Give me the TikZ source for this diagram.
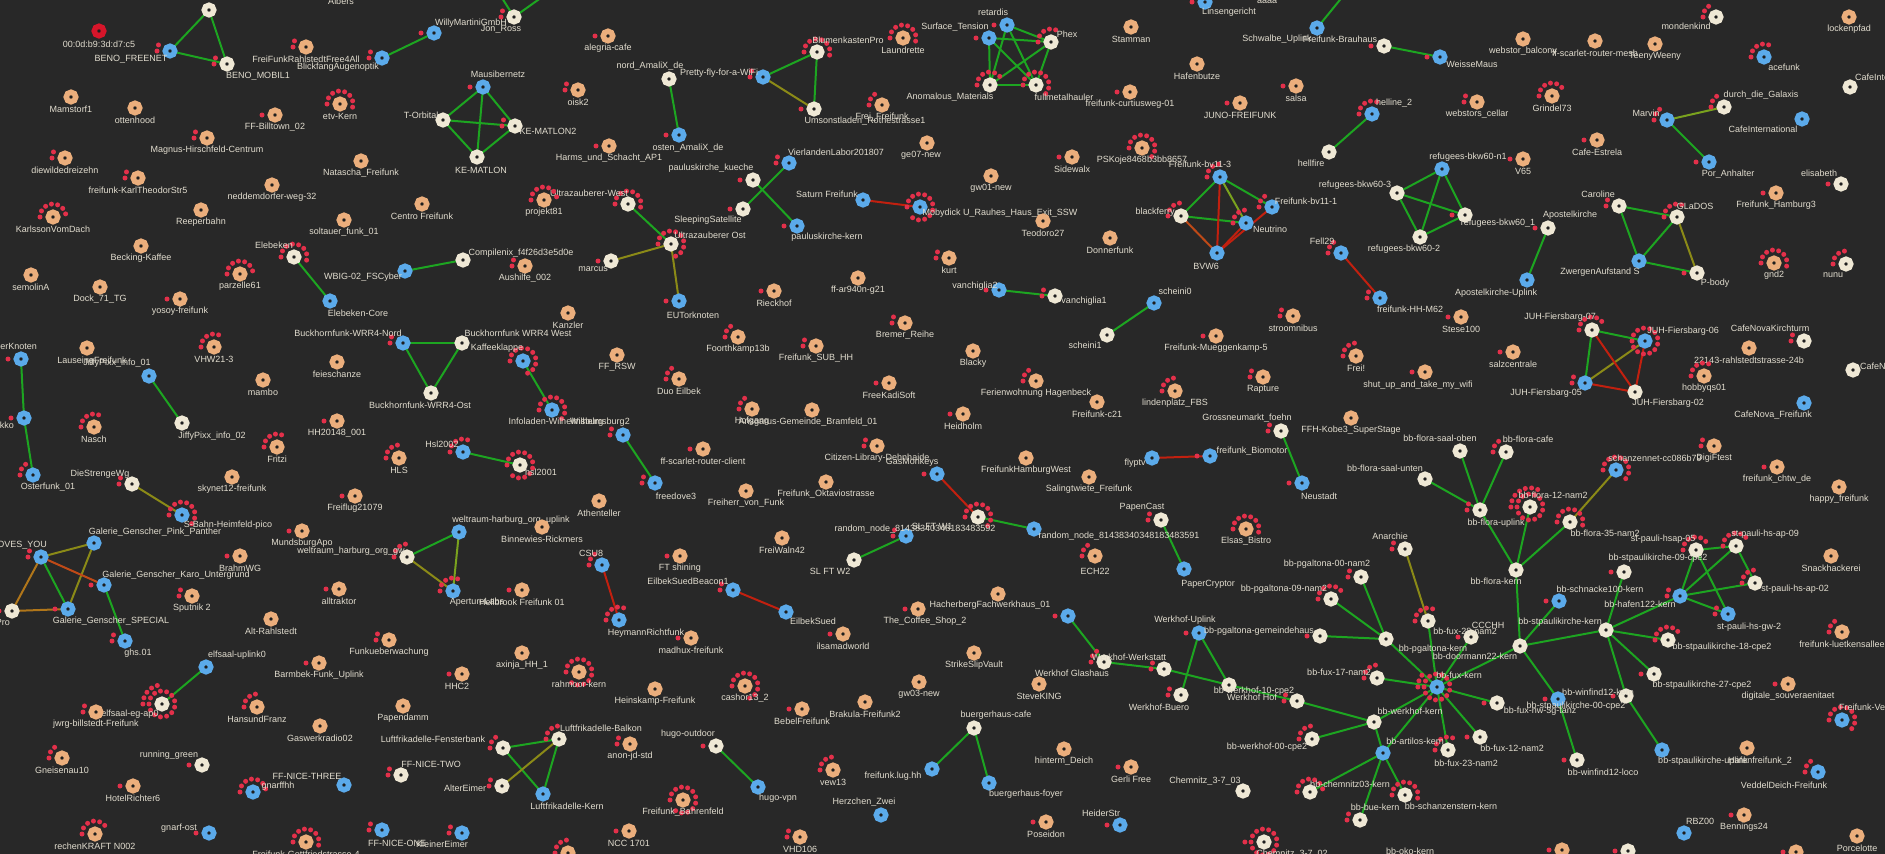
\documentclass[tikz,border=0pt]{standalone}
\usepackage{fontspec}
\setmainfont{Liberation Sans}
\pgfdeclarelayer{bgl}
\pgfdeclarelayer{edges}
\pgfsetlayers{bgl,edges,main}
\definecolor{cBg}{HTML}{282828}
\definecolor{cOff}{HTML}{EBAE7C}
\definecolor{cOnw}{HTML}{EFE8D5}
\definecolor{cOnb}{HTML}{5BAAEA}
\definecolor{cDead}{HTML}{D7152A}
\definecolor{cDot}{HTML}{1E1E1E}
\definecolor{cCl}{HTML}{E3304A}
\definecolor{cTxt}{HTML}{E2DDCF}
\definecolor{cG}{HTML}{1DA521}
\definecolor{cO}{HTML}{8B8A17}
\definecolor{cY}{HTML}{7AA21E}
\definecolor{cR}{HTML}{C2200F}
\definecolor{cM}{HTML}{BF4A17}
\definecolor{cA}{HTML}{B0761A}
\newcommand\clnts[2]{\ifnum#2>0 \foreach \ii in {1,...,#2}{%
 \pgfmathtruncatemacro\cK{\ii-1}%
 \pgfmathsetmacro\cR{\cK<13 ? 13 : (\cK<32 ? 19.1 : 25.2)}%
 \pgfmathsetmacro\cJ{\cK<13 ? \cK : (\cK<32 ? \cK-13 : \cK-32)}%
 \pgfmathsetmacro\cN{\cK<13 ? 13 : (\cK<32 ? 19 : 25)}%
 \pgfmathsetmacro\cT{360/\cN*\cJ}%
 \fill[cCl] (#1) ++({-\cR*cos(\cT)},{-\cR*sin(\cT)}) circle (2.5);}\fi}
\newcommand\ndb[6]{\node[#2] (#1) at (#3,#4) {};\clnts{#1}{#5}\node[lbl] (#1-t) at (#3,{#4+12.5}) {#6};}
\newcommand\ndx[8]{\node[#2] (#1) at (#3,#4) {};\clnts{#1}{#5}\node[lbl] (#1-t) at (#6,#7) {#8};}
\newcommand\ndu[5]{\node[#2] (#1) at (#3,#4) {};\clnts{#1}{#5}}
\begin{document}
\begin{tikzpicture}[x=1pt,y=-1pt,
 base/.style={circle,inner sep=0pt,minimum size=9.5pt,line width=5.5pt,fill=cDot},
 nO/.style={base,draw=cOff},
 nW/.style={base,draw=cOnw},
 nB/.style={base,draw=cOnb},
 nR/.style={base,draw=cDead},
 lbl/.style={text=cTxt,font=\fontsize{9}{10}\selectfont,inner sep=0pt},
 eG/.style={draw=cG,line width=2pt},
 eO/.style={draw=cO,line width=2pt},
 eY/.style={draw=cY,line width=2pt},
 eR/.style={draw=cR,line width=2pt},
 eM/.style={draw=cM,line width=2pt},
 eA/.style={draw=cA,line width=2pt}]
\useasboundingbox (0,0) rectangle (1885,854);
\begin{pgfonlayer}{bgl}
\fill[cBg] (0,0) rectangle (1885,854);
\end{pgfonlayer}
% ---------- region 1
\ndu{top1}{nW}{209}{10}{0}
\node[lbl] (albers) at (341,1) {Albers};
\ndx{macn}{nR}{99}{31}{0}{99}{44}{00:0d:b9:3d:d7:c5}
\ndx{benof}{nB}{170}{51}{2}{131}{59}{BENO\_FREENET}
\ndx{benom}{nW}{227}{64}{2}{258}{76}{BENO\_MOBIL1}
\ndb{rahl}{nO}{306}{47}{2}{FreiFunkRahlstedtFree4All}
\ndx{blick}{nB}{382}{58}{2}{338}{67}{BlickfangAugenoptik}
\ndx{willy}{nB}{434}{33}{1}{471}{23}{WillyMartiniGmbH}
\ndx{jonross}{nW}{514}{17}{2}{501}{29}{Jon\_Ross}
\ndb{mams}{nO}{71}{97}{0}{Mamstorf1}
\ndb{otten}{nO}{135}{108}{0}{ottenhood}
\ndb{billt}{nO}{275}{115}{1}{FF-Billtown\_02}
\ndb{etv}{nO}{340}{104}{8}{etv-Kern}
\ndb{magnus}{nO}{207}{138}{2}{Magnus-Hirschfeld-Centrum}
\ndb{diew}{nO}{65}{158}{2}{diewildedreizehn}
\ndb{karlth}{nO}{138}{178}{2}{freifunk-KarlTheodorStr5}
\ndb{nedd}{nO}{272}{185}{0}{neddemdorfer-weg-32}
\ndb{nata}{nO}{361}{161}{0}{Natascha\_Freifunk}
\ndb{centro}{nO}{422}{204}{0}{Centro Freifunk}
\ndb{soltau}{nO}{344}{220}{0}{soltauer\_funk\_01}
\ndb{karlsson}{nO}{53}{217}{7}{KarlssonVomDach}
\ndb{reeper}{nO}{201}{210}{0}{Reeperbahn}
\ndb{becking}{nO}{141}{246}{0}{Becking-Kaffee}
\ndx{elebeken}{nW}{294}{257}{8}{274}{245}{Elebeken}
\ndx{torbital}{nW}{443}{120}{0}{421}{115}{T-Orbital}
\ndx{kematlon}{nW}{477}{157}{0}{481}{170}{KE-MATLON}
\ndx{wbig}{nB}{405}{271}{0}{363}{277}{WBIG-02\_FSCyber}
\ndx{compil}{nW}{463}{260}{0}{521}{253}{Compilenix\_f4f26d3e5d0e}
\ndb{semol}{nO}{31}{275}{0}{semolinA}
\ndb{dock}{nO}{100}{287}{0}{Dock\_71\_TG}
\ndb{parz}{nO}{240}{274}{7}{parzelle61}
% ---------- region 2
\ndb{alegria}{nO}{608}{36}{1}{alegria-cafe}
\ndx{mausi}{nB}{483}{87}{1}{498}{74}{Mausibernetz}
\ndb{oisk}{nO}{578}{90}{2}{oisk2}
\ndx{kem2}{nW}{515}{126}{2}{548}{131}{KE-MATLON2}
\ndb{harms}{nO}{609}{146}{1}{Harms\_und\_Schacht\_AP1}
\ndx{nordam}{nW}{669}{79}{0}{650}{66}{nord\_AmaliX\_de}
\ndx{ostam}{nB}{679}{135}{1}{688}{148}{osten\_AmaliX\_de}
\ndx{pretty}{nB}{763}{77}{2}{719}{73}{Pretty-fly-for-a-WiFi}
\ndx{blumen}{nW}{817}{52}{8}{848}{40}{BlumenkastenPro}
\ndx{umsonst}{nW}{814}{109}{1}{865}{121}{Umsonstladen\_Rothestrasse1}
\ndb{freifrei}{nO}{882}{105}{3}{Frei\_Freifunk}
\ndb{laundr}{nO}{903}{38}{8}{Laundrette}
\ndx{ge07}{nO}{927}{143}{0}{921}{155}{ge07-new}
\ndx{vierl}{nB}{789}{163}{2}{836}{152}{VierlandenLabor201807}
\ndx{paulk}{nW}{753}{180}{1}{711}{168}{pauluskirche\_kueche}
\ndx{sleep}{nW}{743}{209}{1}{708}{220}{SleepingSatellite}
\ndx{paulkern}{nB}{797}{226}{1}{827}{237}{pauluskirche-kern}
\ndx{saturn}{nB}{863}{200}{0}{827}{194}{Saturn Freifunk}
\ndx{moby}{nB}{920}{207}{12}{1000}{213}{Mobydick U\_Rauhes\_Haus\_Exit\_SSW}
\ndx{uzw}{nW}{628}{204}{8}{589}{193}{Ultrazauberer-West}
\ndb{proj81}{nO}{544}{200}{7}{projekt81}
\ndx{uzo}{nW}{671}{244}{10}{710}{235}{Ultrazauberer Ost}
\ndx{marcus}{nW}{611}{261}{1}{593}{269}{marcus}
\ndx{eutor}{nB}{679}{301}{1}{693}{315}{EUTorknoten}
\ndb{aushilfe}{nO}{525}{266}{2}{Aushilfe\_002}
\ndb{ffar}{nO}{858}{278}{0}{ff-ar940n-g21}
\ndb{kurt}{nO}{949}{258}{2}{kurt}
% ---------- region 3
\ndx{surface}{nB}{989}{38}{1}{955}{27}{Surface\_Tension}
\ndx{retardis}{nB}{1007}{25}{1}{993}{12}{retardis}
\ndx{phex}{nW}{1051}{42}{5}{1067}{34}{Phex}
\ndx{anom}{nW}{990}{85}{6}{950}{97}{Anomalous\_Materials}
\ndx{fullm}{nW}{1036}{85}{9}{1064}{97}{fullmetalhauler}
\ndb{stamman}{nO}{1131}{27}{0}{Stamman}
\ndb{hafenb}{nO}{1197}{64}{0}{Hafenbutze}
\ndb{curtius}{nO}{1130}{92}{1}{freifunk-curtiusweg-01}
\ndb{juno}{nO}{1240}{103}{1}{JUNO-FREIFUNK}
\ndb{salsa}{nO}{1296}{86}{1}{salsa}
\ndx{linsen}{nB}{1205}{2}{1}{1229}{12}{Linsengericht}
\node[lbl] (aaaa) at (1267,1) {aaaa};
\ndx{schwalbe}{nB}{1317}{28}{0}{1277}{39}{Schwalbe\_Uplink}
\ndx{brauhaus}{nW}{1384}{46}{1}{1340}{39}{Freifunk-Brauhaus}
\ndx{weisse}{nB}{1440}{57}{1}{1472}{64}{WeisseMaus}
\ndx{helline}{nB}{1372}{114}{5}{1394}{103}{helline\_2}
\ndx{hellfire}{nW}{1329}{152}{0}{1311}{163}{hellfire}
\ndb{sidewalx}{nO}{1072}{157}{1}{Sidewalx}
\ndb{gw01}{nO}{991}{176}{0}{gw01-new}
\ndb{pskoje}{nO}{1142}{148}{9}{PSKoje8468b3bb8657}
\ndx{bv113}{nB}{1220}{177}{4}{1200}{164}{Freifunk-bv11-3}
\ndx{bv111}{nB}{1272}{207}{3}{1306}{201}{Freifunk-bv11-1}
\ndx{blackf}{nW}{1181}{216}{4}{1155}{212}{blackferry}
\ndx{neutr}{nB}{1246}{223}{4}{1270}{229}{Neutrino}
\ndx{bvw6}{nB}{1217}{253}{0}{1206}{266}{BVW6}
\ndb{donner}{nO}{1110}{238}{0}{Donnerfunk}
\ndb{teodoro}{nO}{1043}{221}{0}{Teodoro27}
\ndx{vanch2}{nB}{999}{290}{1}{975}{286}{vanchiglia2}
\ndx{vanch1}{nW}{1055}{296}{2}{1084}{301}{vanchiglia1}
\ndx{fell29}{nB}{1341}{253}{3}{1322}{241}{Fell29}
\ndx{hhm62}{nB}{1380}{298}{2}{1410}{309}{freifunk-HH-M62}
\ndx{ref3}{nW}{1397}{193}{0}{1355}{185}{refugees-bkw60-3}
\ndx{ref2}{nW}{1420}{237}{0}{1404}{249}{refugees-bkw60-2}
\ndx{refn1}{nB}{1442}{169}{0}{1468}{157}{refugees-bkw60-n1}
\ndx{ref1}{nW}{1465}{215}{1}{1498}{223}{refugees-bkw60\_1}
% ---------- region 4
\ndx{monden}{nW}{1716}{17}{3}{1686}{26}{mondenkind}
\ndb{locken}{nO}{1849}{17}{0}{lockenpfad}
\ndb{webbal}{nO}{1523}{39}{0}{webstor\_balcony}
\ndb{scarm}{nO}{1595}{41}{0}{ff-scarlet-router-mesh}
\ndb{teeny}{nO}{1655}{44}{0}{TeenyWeeny}
\ndx{acef}{nB}{1764}{57}{5}{1784}{67}{acefunk}
\ndu{cafei2}{nW}{1850}{87}{0}
\node[lbl,anchor=west] (cafei2-t) at (1855,77) {CafeInternational};
\ndb{webcel}{nO}{1477}{102}{2}{webstors\_cellar}
\ndb{grindel}{nO}{1552}{96}{6}{Grindel73}
\ndx{durch}{nW}{1724}{107}{3}{1761}{95}{durch\_die\_Galaxis}
\ndx{marvin}{nB}{1667}{120}{3}{1646}{113}{Marvin}
\ndx{cafei}{nB}{1802}{119}{0}{1763}{129}{CafeInternational}
\ndb{estrela}{nO}{1597}{140}{1}{Cafe-Estrela}
\ndb{v65}{nO}{1523}{159}{1}{V65}
\ndx{poranh}{nB}{1709}{162}{1}{1728}{174}{Por\_Anhalter}
\ndx{elisab}{nW}{1841}{184}{1}{1819}{173}{elisabeth}
\ndb{ffhh3}{nO}{1776}{193}{1}{Freifunk\_Hamburg3}
\ndx{caroline}{nW}{1619}{206}{2}{1598}{194}{Caroline}
\ndx{glados}{nW}{1677}{217}{5}{1695}{206}{GLaDOS}
\ndx{zwergen}{nB}{1639}{261}{0}{1600}{272}{ZwergenAufstand S}
\ndx{pbody}{nW}{1697}{273}{1}{1715}{283}{P-body}
\ndx{apostel}{nW}{1548}{228}{1}{1570}{215}{Apostelkirche}
\ndx{aposup}{nB}{1527}{280}{0}{1496}{293}{Apostelkirche-Uplink}
\ndb{gnd2}{nO}{1774}{263}{8}{gnd2}
\ndx{nunu}{nW}{1846}{264}{4}{1833}{275}{nunu}
% ---------- region 5
\ndb{yosoy}{nO}{180}{299}{1}{yosoy-freifunk}
\ndx{elebcore}{nB}{330}{301}{0}{358}{313}{Elebeken-Core}
\ndu{knoten}{nB}{21}{359}{1}
\node[lbl,anchor=east] (knoten-t) at (37,346) {BrennerKnoten};
\ndx{lauseing}{nO}{87}{348}{0}{92}{361}{LauseingFreifunk}
\ndx{jiffy1}{nB}{149}{376}{0}{117}{363}{JiffyPixx\_info\_01}
\ndx{jiffy2}{nW}{182}{423}{0}{212}{436}{JiffyPixx\_info\_02}
\ndb{vhw}{nO}{214}{347}{5}{VHW21-3}
\ndb{mambo}{nO}{263}{380}{0}{mambo}
\ndb{feie}{nO}{337}{362}{0}{feieschanze}
\ndx{bhnord}{nB}{403}{343}{2}{348}{333}{Buckhornfunk-WRR4-Nord}
\ndx{bhwest}{nW}{462}{343}{0}{518}{333}{Buckhornfunk WRR4 West}
\ndx{bhost}{nW}{431}{393}{0}{420}{405}{Buckhornfunk-WRR4-Ost}
\ndu{gekko}{nB}{24}{418}{1}
\node[lbl,anchor=east] (gekko-t) at (14,425) {Gekko};
\ndx{osterf}{nB}{33}{475}{3}{48}{487}{Osterfunk\_01}
\ndb{nasch}{nO}{94}{427}{5}{Nasch}
\ndb{fritzi}{nO}{277}{447}{5}{Fritzi}
\ndb{hh2014}{nO}{337}{421}{1}{HH20148\_001}
\ndb{hls}{nO}{399}{458}{4}{HLS}
\ndx{hsl2}{nB}{463}{452}{5}{442}{444}{Hsl2002}
\ndx{hsl1}{nW}{520}{465}{12}{541}{472}{hsl2001}
\ndx{diestr}{nW}{132}{484}{2}{100}{474}{DieStrengeWg}
\ndx{sbahn}{nB}{182}{515}{9}{228}{525}{S-Bahn-Heimfeld-pico}
\ndb{skynet}{nO}{232}{477}{0}{skynet12-freifunk}
\ndb{freiflug}{nO}{355}{496}{1}{Freiflug21079}
\ndb{mundsb}{nO}{302}{531}{1}{MundsburgApo}
\ndb{brahm}{nO}{240}{556}{1}{BrahmWG}
\ndx{pinkp}{nB}{94}{543}{0}{155}{532}{Galerie\_Genscher\_Pink\_Panther}
\ndu{loves}{nB}{41}{557}{2}
\node[lbl,anchor=east] (loves-t) at (47,545) {LOVES\_YOU};
\ndx{welup}{nB}{459}{532}{0}{511}{520}{weltraum-harburg\_org\_uplink}
\ndx{welgw}{nW}{407}{557}{4}{351}{551}{weltraum\_harburg\_org\_gw}
% ---------- region 9
\ndx{karo}{nB}{104}{585}{1}{176}{575}{Galerie\_Genscher\_Karo\_Untergrund}
\ndx{special}{nB}{68}{609}{1}{111}{621}{Galerie\_Genscher\_SPECIAL}
\ndu{pro}{nW}{12}{611}{1}
\node[lbl,anchor=east] (pro-t) at (10,622) {Pro};
\ndx{ghs}{nB}{125}{641}{2}{138}{653}{ghs.01}
\ndb{sputnik}{nO}{192}{596}{2}{Sputnik 2}
\ndb{altrahl}{nO}{271}{619}{0}{Alt-Rahlstedt}
\ndb{alltrak}{nO}{339}{589}{1}{alltraktor}
\ndb{funkue}{nO}{389}{640}{2}{Funkueberwachung}
\ndb{barmbek}{nO}{319}{663}{1}{Barmbek-Funk\_Uplink}
\ndx{hhc2}{nO}{462}{674}{1}{457}{686}{HHC2}
\ndx{elfup}{nB}{206}{667}{0}{237}{655}{elfsaal-uplink0}
\ndx{elfeg}{nW}{162}{704}{18}{130}{714}{elfsaal-eg-ap0}
\ndb{jwrg}{nO}{96}{712}{2}{jwrg-billstedt-Freifunk}
\ndb{hansf}{nO}{257}{707}{4}{HansundFranz}
\ndb{papend}{nO}{403}{706}{0}{Papendamm}
\ndb{gaswerk}{nO}{320}{726}{0}{Gaswerkradio02}
\ndb{gneis}{nO}{62}{758}{3}{Gneisenau10}
\ndx{running}{nW}{202}{765}{1}{169}{755}{running\_green}
\ndb{hotelr}{nO}{133}{786}{1}{HotelRichter6}
\ndx{gnarf}{nB}{253}{792}{7}{278}{786}{gnarffhh}
\ndx{nice3}{nB}{344}{785}{0}{307}{776}{FF-NICE-THREE}
\ndx{nice2}{nW}{401}{775}{2}{431}{764}{FF-NICE-TWO}
\ndb{rechen}{nO}{95}{834}{6}{rechenKRAFT N002}
\ndx{gnarfost}{nB}{209}{833}{1}{179}{828}{gnarf-ost}
\ndb{gottfr}{nO}{306}{842}{8}{Freifunk-Gottfriedstrasse-4}
\ndx{nice1}{nB}{382}{830}{2}{397}{843}{FF-NICE-ONE}
\ndx{kleiner}{nB}{462}{833}{2}{442}{844}{KleinerEimer}
\ndx{apert}{nB}{453}{591}{5}{477}{602}{ApertureLabs}
\ndb{hellbr}{nO}{522}{590}{1}{Hellbrook Freifunk 01}
\ndx{lfenster}{nW}{503}{748}{3}{433}{739}{Luftfrikadelle-Fensterbank}
\ndx{altere}{nW}{502}{786}{2}{465}{788}{AlterEimer}
\ndx{lbalkon}{nW}{559}{739}{4}{601}{728}{Luftfrikadelle-Balkon}
\ndx{lkern}{nB}{543}{794}{0}{567}{806}{Luftfrikadelle-Kern}
% ---------- region 6
\ndb{kanzler}{nO}{568}{313}{0}{Kanzler}
\ndx{kaffee}{nB}{523}{361}{10}{497}{348}{Kaffeeklappe}
\ndx{infol}{nB}{552}{410}{9}{556}{422}{Infoladen-Wilhelmsburg}
\ndx{wil2}{nB}{623}{435}{2}{600}{422}{Wilhelmsburg2}
\ndx{freedove}{nB}{655}{483}{2}{676}{496}{freedove3}
\ndb{ffrsw}{nO}{617}{355}{0}{FF\_RSW}
\ndb{duo}{nO}{679}{379}{3}{Duo Eilbek}
\ndb{foorth}{nO}{738}{337}{3}{Foorthkamp13b}
\ndb{subhh}{nO}{816}{346}{2}{Freifunk\_SUB\_HH}
\ndb{rieck}{nO}{774}{291}{1}{Rieckhof}
\ndb{bremer}{nO}{905}{323}{2}{Bremer\_Reihe}
\ndb{kadi}{nO}{889}{383}{1}{FreeKadiSoft}
\ndb{hofgang}{nO}{752}{409}{3}{Hofgang}
\ndx{bramf}{nO}{812}{410}{0}{808}{422}{Ansgarus-Gemeinde\_Bramfeld\_01}
\ndb{scarc}{nO}{703}{449}{1}{ff-scarlet-router-client}
\ndb{citizen}{nO}{877}{446}{2}{Citizen-Library-Dehnhaide}
\ndx{gasm}{nB}{937}{474}{1}{912}{462}{GasMonkeys}
\ndb{oktav}{nO}{826}{482}{0}{Freifunk\_Oktaviostrasse}
\ndb{freiherr}{nO}{746}{491}{0}{Freiherr\_von\_Funk}
\ndb{athen}{nO}{599}{501}{0}{Athenteller}
\ndb{binne}{nO}{542}{527}{0}{Binnewies-Rickmers}
\ndx{csu8}{nB}{602}{565}{3}{591}{553}{CSU8}
\ndb{ftshin}{nO}{680}{556}{1}{FT shining}
\ndb{freiwaln}{nO}{782}{538}{0}{FreiWaln42}
\ndx{slft1}{nB}{906}{536}{2}{932}{526}{SL FT W1}
\ndx{rnd92}{nW}{978}{517}{9}{915}{529}{random\_node\_81438340348183483592}
\ndx{slft2}{nW}{854}{560}{0}{830}{571}{SL FT W2}
\ndx{rnd91}{nB}{1034}{529}{0}{1119}{536}{random\_node\_81438340348183483591}
% ---------- region 7
\ndx{schein0}{nB}{1154}{303}{0}{1175}{291}{scheini0}
\ndx{schein1}{nW}{1107}{335}{0}{1085}{345}{scheini1}
\ndb{blacky}{nO}{973}{351}{0}{Blacky}
\ndb{ferien}{nO}{1036}{381}{3}{Ferienwohnung Hagenbeck}
\ndb{heidh}{nO}{963}{414}{1}{Heidholm}
\ndb{fc21}{nO}{1097}{402}{0}{Freifunk-c21}
\ndb{linden}{nO}{1175}{391}{4}{lindenplatz\_FBS}
\ndb{muegg}{nO}{1216}{336}{1}{Freifunk-Mueggenkamp-5}
\ndb{stroo}{nO}{1293}{316}{2}{stroomnibus}
\ndb{rapture}{nO}{1263}{377}{2}{Rapture}
\ndb{frei}{nO}{1356}{356}{4}{Frei!}
\ndx{shutup}{nO}{1425}{372}{1}{1418}{385}{shut\_up\_and\_take\_my\_wifi}
\ndx{grossn}{nW}{1281}{431}{2}{1247}{418}{Grossneumarkt\_foehn}
\ndx{neust}{nB}{1302}{483}{1}{1319}{496}{Neustadt}
\ndb{ffhkobe}{nO}{1351}{418}{0}{FFH-Kobe3\_SuperStage}
\ndx{flyptv}{nB}{1152}{458}{0}{1135}{463}{flyptv}
\ndx{biomot}{nB}{1210}{456}{1}{1252}{451}{freifunk\_Biomotor}
\ndb{ffhhw}{nO}{1026}{458}{0}{FreifunkHamburgWest}
\ndb{saling}{nO}{1089}{477}{0}{Salingtwiete\_Freifunk}
\ndx{papenc}{nW}{1161}{520}{2}{1142}{507}{PapenCast}
\ndx{papercr}{nB}{1184}{569}{0}{1208}{584}{PaperCryptor}
\ndb{elsas}{nO}{1246}{529}{8}{Elsas\_Bistro}
\ndx{ech22}{nO}{1095}{556}{3}{1095}{571}{ECH22}
\ndx{anarchie}{nW}{1405}{549}{2}{1390}{536}{Anarchie}
\ndx{pg00}{nW}{1361}{577}{2}{1327}{564}{bb-pgaltona-00-nam2}
% ---------- region 8
\ndb{stese}{nO}{1461}{317}{1}{Stese100}
\ndb{salzc}{nO}{1513}{352}{1}{salzcentrale}
\ndx{juh07}{nW}{1592}{330}{6}{1560}{317}{JUH-Fiersbarg-07}
\ndx{juh06}{nB}{1645}{341}{13}{1683}{331}{JUH-Fiersbarg-06}
\ndx{juh05}{nB}{1585}{383}{2}{1546}{393}{JUH-Fiersbarg-05}
\ndx{juh02}{nW}{1635}{392}{0}{1668}{403}{JUH-Fiersbarg-02}
\ndb{rahlstr}{nO}{1749}{348}{0}{22143-rahlstedtstrasse-24b}
\ndx{cnk}{nW}{1804}{341}{2}{1770}{328}{CafeNovaKirchturm}
\ndb{hobby}{nO}{1704}{376}{5}{hobbyqs01}
\ndx{cnf}{nB}{1804}{403}{0}{1773}{415}{CafeNova\_Freifunk}
\ndu{cafen}{nW}{1853}{370}{0}
\node[lbl,anchor=west] (cafen-t) at (1860,366) {CafeNova};
\ndx{floraob}{nW}{1460}{451}{0}{1440}{438}{bb-flora-saal-oben}
\ndx{floracafe}{nW}{1506}{452}{3}{1528}{439}{bb-flora-cafe}
\ndx{floraun}{nW}{1425}{479}{0}{1385}{468}{bb-flora-saal-unten}
\ndx{floraup}{nW}{1480}{510}{2}{1496}{523}{bb-flora-uplink}
\ndx{flora12}{nW}{1530}{507}{20}{1553}{495}{bb-flora-12-nam2}
\ndx{flora35}{nW}{1570}{522}{8}{1605}{533}{bb-flora-35-nam2}
\ndx{schanz}{nB}{1616}{470}{9}{1655}{458}{schanzennet-cc086b79}
\ndb{digif}{nO}{1714}{446}{2}{DigiFtest}
\ndx{florakern}{nW}{1516}{570}{0}{1496}{581}{bb-flora-kern}
\ndb{chtw}{nO}{1777}{467}{1}{freifunk\_chtw\_de}
\ndb{happy}{nO}{1839}{487}{0}{happy\_freifunk}
\ndx{hsap05}{nW}{1696}{550}{6}{1663}{539}{st-pauli-hsap-05}
\ndx{hsap09}{nW}{1736}{546}{6}{1765}{534}{st-pauli-hs-ap-09}
\ndb{snack}{nO}{1831}{556}{0}{Snackhackerei}
\ndx{spk09}{nW}{1624}{572}{1}{1658}{558}{bb-stpaulikirche-09-cpe2}
% ---------- region 12
\ndu{hsblue}{nB}{1680}{596}{2}
\ndx{hsap02}{nW}{1755}{583}{4}{1795}{589}{st-pauli-hs-ap-02}
\ndx{hsgw2}{nB}{1728}{614}{2}{1749}{627}{st-pauli-hs-gw-2}
\ndx{schnacke}{nB}{1559}{601}{1}{1600}{589}{bb-schnacke100-kern}
\ndx{spkern}{nW}{1520}{646}{0}{1560}{622}{bb-stpaulikirche-kern}
\ndx{hafen122}{nW}{1606}{630}{0}{1640}{604}{bb-hafen122-kern}
\ndx{spk18}{nW}{1668}{640}{6}{1722}{647}{bb-stpaulikirche-18-cpe2}
\ndx{spk27}{nW}{1654}{674}{1}{1702}{685}{bb-stpaulikirche-27-cpe2}
\ndx{winfk}{nW}{1626}{696}{1}{1598}{692}{bb-winfind12-kern}
\ndx{spkup}{nB}{1662}{750}{0}{1703}{761}{bb-stpaulikirche-uplink}
\ndx{hafenff}{nO}{1747}{748}{0}{1760}{761}{Hafenfreifunk\_2}
\ndx{spk00}{nB}{1558}{699}{1}{1576}{706}{bb-stpaulikirche-00-cpe2}
\ndx{winfloco}{nW}{1577}{760}{1}{1603}{772}{bb-winfind12-loco}
\ndx{fuxkern}{nB}{1437}{687}{16}{1459}{675}{bb-fux-kern}
\ndx{ccchh}{nW}{1471}{637}{1}{1488}{625}{CCCHH}
\ndx{fux28}{nW}{1428}{621}{5}{1465}{631}{bb-fux-28-nam2}
\node[lbl] (doorm-t) at (1475,656) {bb-doormann22-kern};
\ndx{fuxnw}{nW}{1497}{703}{1}{1540}{711}{bb-fux-nw-3g-tanz}
\ndx{fux12}{nW}{1480}{737}{1}{1512}{748}{bb-fux-12-nam2}
\ndx{fux23}{nW}{1448}{750}{5}{1466}{763}{bb-fux-23-nam2}
\ndb{luetk}{nO}{1842}{632}{3}{freifunk-luetkensallee}
\ndb{digsou}{nO}{1788}{684}{1}{digitale\_souveraenitaet}
\ndu{veddel}{nB}{1842}{720}{9}
\node[lbl,anchor=west] (veddel-t) at (1839,707) {Freifunk-Veddel};
\ndx{veddeich}{nB}{1818}{772}{3}{1784}{785}{VeddelDeich-Freifunk}
\ndx{rbz}{nB}{1684}{833}{0}{1700}{821}{RBZ00}
\ndb{bennings}{nO}{1744}{815}{1}{Bennings24}
\ndb{porcel}{nO}{1857}{836}{0}{Porcelotte}
\ndu{bot1}{nO}{1562}{850}{1}
\ndu{bot2}{nW}{1628}{851}{1}
\ndu{bot3}{nO}{1796}{852}{1}
% ---------- region 11
\ndx{hacher}{nO}{998}{594}{0}{990}{605}{HacherbergFachwerkhaus\_01}
\ndu{vandal}{nB}{1068}{616}{1}
\ndx{coffee}{nO}{918}{609}{1}{925}{621}{The\_Coffee\_Shop\_2}
\ndb{strike}{nO}{974}{653}{0}{StrikeSlipVault}
\ndx{wwerk}{nW}{1104}{662}{3}{1129}{657}{Werkhof-Werkstatt}
\ndx{wglas}{nW}{1164}{669}{2}{1072}{673}{Werkhof Glashaus}
\ndb{steve}{nO}{1039}{684}{0}{SteveKING}
\ndx{wup}{nB}{1199}{633}{1}{1185}{620}{Werkhof-Uplink}
\ndx{pggem}{nW}{1320}{636}{1}{1259}{631}{bb-pgaltona-gemeindehaus}
\ndx{wbuero}{nW}{1181}{695}{2}{1159}{707}{Werkhof-Buero}
\ndx{wk10}{nW}{1229}{685}{0}{1254}{691}{bb-werkhof-10-cpe2}
\ndx{whof}{nW}{1297}{701}{2}{1252}{697}{Werkhof Hof}
\ndx{pg09}{nW}{1331}{599}{6}{1284}{589}{bb-pgaltona-09-nam2}
\ndx{pgkern}{nW}{1386}{639}{0}{1433}{649}{bb-pgaltona-kern}
\ndx{fux17}{nW}{1377}{678}{4}{1339}{672}{bb-fux-17-nam2}
\ndx{wkern}{nW}{1374}{722}{0}{1410}{711}{bb-werkhof-kern}
\ndx{wk00}{nW}{1312}{739}{4}{1267}{747}{bb-werkhof-00-cpe2}
\ndx{artil}{nB}{1383}{753}{0}{1415}{741}{bb-artilos-kern}
\ndx{chem03}{nW}{1310}{792}{7}{1350}{784}{bb-chemnitz03-kern}
\ndx{bue}{nW}{1360}{820}{2}{1375}{807}{bb-bue-kern}
\ndx{schst}{nW}{1405}{795}{8}{1451}{806}{bb-schanzenstern-kern}
\ndx{chem37}{nW}{1243}{791}{0}{1205}{781}{Chemnitz\_3-7\_03}
\ndx{chembig}{nW}{1264}{842}{14}{1292}{854}{Chemnitz\_3-7\_02}
\node[lbl] (oko-t) at (1410,851) {bb-oko-kern};
\ndx{bcafe}{nW}{974}{728}{0}{996}{715}{buergerhaus-cafe}
\ndx{bfoyer}{nB}{989}{783}{0}{1026}{794}{buergerhaus-foyer}
\ndb{hinterm}{nO}{1064}{749}{0}{hinterm\_Deich}
\ndb{gerli}{nO}{1131}{767}{1}{Gerli Free}
\ndb{poseidon}{nO}{1046}{822}{1}{Poseidon}
\ndx{heiderstr}{nB}{1120}{825}{1}{1101}{813}{HeiderStr}
% ---------- region 10
\ndx{heymann}{nB}{619}{620}{5}{646}{633}{HeymannRichtfunk}
\ndx{eilbekb}{nB}{733}{590}{2}{688}{581}{EilbekSuedBeacon1}
\ndx{eilbek}{nB}{786}{612}{0}{813}{621}{EilbekSued}
\ndb{madhux}{nO}{691}{638}{1}{madhux-freifunk}
\ndb{ilsam}{nO}{843}{634}{1}{ilsamadworld}
\ndb{axinja}{nO}{522}{653}{0}{axinja\_HH\_1}
\ndb{rahmoor}{nO}{579}{672}{12}{rahmoor-kern}
\ndb{heinsk}{nO}{655}{689}{0}{Heinskamp-Freifunk}
\ndb{cashor}{nO}{745}{686}{10}{cashor13\_2}
\ndb{gw03}{nO}{919}{682}{0}{gw03-new}
\ndb{bebel}{nO}{802}{709}{1}{BebelFreifunk}
\ndb{brakula}{nO}{865}{702}{0}{Brakula-Freifunk2}
\ndb{anon}{nO}{630}{744}{2}{anon-jd-std}
\ndx{hugoo}{nW}{716}{746}{1}{688}{734}{hugo-outdoor}
\ndx{hugov}{nB}{758}{787}{0}{778}{798}{hugo-vpn}
\ndb{vew13}{nO}{833}{770}{4}{vew13}
\ndx{lughh}{nB}{932}{769}{0}{893}{776}{freifunk.lug.hh}
\ndx{herzchen}{nB}{881}{815}{0}{864}{802}{Herzchen\_Zwei}
\ndb{bahren}{nO}{683}{800}{12}{Freifunk\_Bahrenfeld}
\ndb{ncc}{nO}{629}{831}{1}{NCC 1701}
\ndb{vhd}{nO}{800}{837}{2}{VHD106}
\ndu{bot4}{nO}{568}{853}{4}
\coordinate (cj1) at (497,-10);
\coordinate (cj2) at (552,-10);
\coordinate (cs1) at (1348,-10);
% ---------- edges
\begin{pgfonlayer}{edges}
\foreach \a/\b in {top1/benof,top1/benom,benof/benom,blick/willy,jonross/cj1,jonross/cj2,
 torbital/mausi,torbital/kem2,torbital/kematlon,mausi/kematlon,mausi/kem2,kematlon/kem2,
 elebeken/elebcore,wbig/compil,nordam/ostam,pretty/blumen,blumen/umsonst,sleep/vierl,paulk/paulkern,
 uzw/uzo,surface/phex,surface/anom,surface/fullm,retardis/phex,retardis/anom,retardis/fullm,
 phex/anom,phex/fullm,anom/fullm,schwalbe/cs1,brauhaus/weisse,helline/hellfire,
 bv113/blackf,bv113/bv111,blackf/neutr,vanch2/vanch1,
 ref3/ref2,ref3/refn1,ref3/ref1,refn1/ref2,refn1/ref1,ref2/ref1,marvin/poranh,
 caroline/glados,caroline/zwergen,glados/zwergen,zwergen/pbody,apostel/aposup,
 knoten/gekko,gekko/osterf,jiffy1/jiffy2,bhnord/bhwest,bhnord/bhost,bhwest/bhost,hsl2/hsl1,
 loves/special,karo/ghs,welup/welgw,elfup/elfeg,lfenster/lbalkon,lfenster/lkern,lbalkon/lkern,
 kaffee/infol,wil2/freedove,rnd92/rnd91,slft1/slft2,schein0/schein1,grossn/neust,papenc/papercr,
 juh07/juh06,juh07/juh05,floraup/floraob,floraup/floracafe,floraup/floraun,floraup/florakern,
 flora12/florakern,flora35/florakern,hsblue/hsap05,hsblue/hsap09,hsblue/hsap02,hsblue/hsgw2,
 hsap05/hsap09,hsap05/hsgw2,hsap09/hsap02,hsblue/hafen122,spk09/hafen122,schnacke/spkern,
 spkern/hafen122,spkern/fuxkern,florakern/spkern,spkern/spk00,spk00/winfloco,hafen122/spk18,
 hafen122/spk27,hafen122/winfk,winfk/spkup,fuxkern/ccchh,fuxkern/fux28,fuxkern/fuxnw,fuxkern/fux12,
 fuxkern/fux23,fuxkern/pgkern,fuxkern/fux17,fuxkern/wkern,fuxkern/artil,pgkern/pg09,pgkern/pggem,
 pgkern/pg00,wkern/artil,wkern/wk00,wkern/whof,artil/chem03,artil/bue,artil/schst,whof/wk10,
 wk10/wglas,wglas/wwerk,wk10/wup,wup/wbuero,wwerk/vandal,bcafe/bfoyer,bcafe/lughh,hugoo/hugov}
 {\draw[eG] (\a.center) -- (\b.center);}
\foreach \a/\b in {pretty/umsonst,marcus/uzo,uzo/eutor,glados/pbody,diestr/sbahn,loves/pinkp,
 pinkp/special,welgw/apert,altere/lbalkon,juh06/juh05,flora35/schanz,anarchie/fux28}
 {\draw[eO] (\a.center) -- (\b.center);}
\foreach \a/\b in {bv113/neutr,marvin/durch,welup/apert}
 {\draw[eY] (\a.center) -- (\b.center);}
\foreach \a/\b in {saturn/moby,bv113/bvw6,neutr/bvw6,bv111/bvw6,fell29/hhm62,gasm/rnd92,
 csu8/heymann,eilbekb/eilbek,flyptv/biomot,juh07/juh02,juh06/juh02,juh05/juh02}
 {\draw[eR] (\a.center) -- (\b.center);}
\foreach \a/\b in {blackf/bvw6,loves/karo}
 {\draw[eM] (\a.center) -- (\b.center);}
\foreach \a/\b in {loves/pro,pro/special}
 {\draw[eA] (\a.center) -- (\b.center);}
\end{pgfonlayer}
\end{tikzpicture}
\end{document}
